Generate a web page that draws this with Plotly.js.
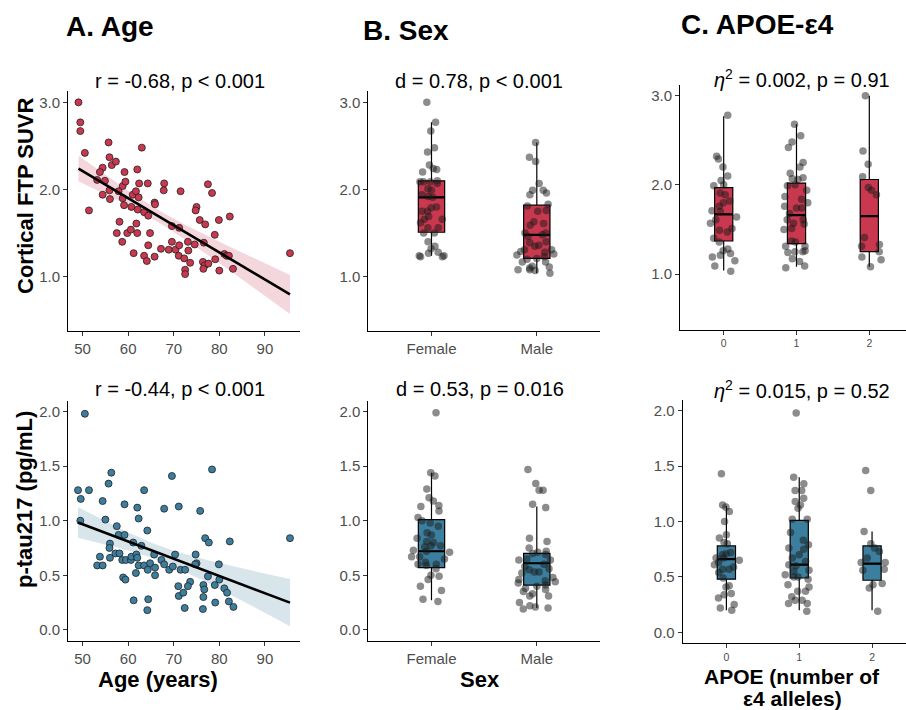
<!DOCTYPE html>
<html>
<head>
<meta charset="utf-8">
<script src="https://cdn.plot.ly/plotly-3.0.1.min.js"></script>
<style>html,body{margin:0;padding:0;background:#fff;}#chart{width:906px;height:710px;}</style>
</head>
<body>
<div id="chart"></div>
<script>
// ---------- DATA ----------
// Panel A (top): age vs cortical FTP SUVR
const ageFTP = [49.1,49.5,49.5,50.5,51.4,55.7,55.9,56.4,57.3,54.4,53.8,53.2,54.9,55.9,54.4,56.0,57.9,58.8,59.2,59.4,58.8,59.1,60.7,61.0,61.7,62.0,62.4,62.3,62.1,63.0,63.5,64.3,64.4,65.8,65.9,58.1,57.5,58.7,59.8,60.6,61.8,62.0,64.8,61.2,63.5,64.1,64.4,65.8,67.2,67.9,67.8,68.9,69.6,69.6,70.4,71.2,71.1,71.5,71.2,72.3,72.5,72.5,77.5,78.4,75.0,74.8,75.7,76.9,79.9,82.3,79.0,73.1,74.6,73.2,76.6,73.6,76.4,76.8,76.5,77.6,79.1,80.0,81.1,81.6,82.1,83.0,95.5];
const ftpByAge = [3.00,2.77,2.67,2.42,1.76,2.54,2.37,2.28,2.32,2.25,2.20,2.11,2.10,1.99,1.94,1.89,1.98,2.04,2.20,2.09,1.90,1.82,1.80,1.94,1.98,2.23,2.07,1.91,1.77,2.48,1.74,2.07,1.70,1.85,1.83,1.63,1.50,1.40,1.50,1.54,1.61,1.50,1.50,1.27,1.24,1.18,1.36,1.23,1.32,2.07,1.99,1.31,1.58,1.40,1.31,1.36,1.24,1.98,1.56,1.21,1.08,1.03,2.06,1.96,1.80,1.76,1.65,1.60,1.65,1.69,1.48,1.40,1.37,1.30,1.39,1.16,1.17,1.13,1.09,1.15,1.20,1.07,1.26,1.24,1.24,1.09,1.27];
// Panel A (bottom): age vs plasma p-tau217
const agePT = [50.5,49.0,49.6,51.4,49.5,56.3,55.7,54.4,55.0,59.2,62.0,62.3,63.5,64.2,67.9,69.6,71.1,57.5,57.9,59.2,56.0,55.9,56.0,57.2,58.1,53.8,53.2,54.4,58.7,59.5,60.6,60.7,61.1,61.8,62.0,62.3,62.9,63.5,64.8,64.3,65.9,65.7,65.9,61.7,58.9,59.4,61.2,64.4,64.2,67.3,67.9,69.0,69.8,70.3,71.5,71.0,71.1,72.1,72.4,72.5,78.4,75.8,76.9,77.7,82.3,95.5,74.8,75.0,74.7,79.9,77.5,80.0,73.6,73.1,76.5,76.7,79.0,81.1,81.7,76.5,82.1,79.1,76.4,83.1];
const ptByAge = [1.98,1.28,1.20,1.28,1.00,1.44,1.34,1.18,1.01,1.15,1.12,1.02,1.28,0.91,1.11,1.41,1.13,0.95,0.87,0.87,0.79,0.75,0.66,0.70,0.70,0.67,0.59,0.59,0.64,0.64,0.64,0.67,0.80,0.69,0.66,0.59,0.77,0.59,0.61,0.55,0.57,0.69,0.50,0.52,0.48,0.46,0.27,0.28,0.18,0.64,0.60,0.55,0.58,0.69,0.55,0.40,0.31,0.34,0.20,0.55,1.47,1.09,0.84,0.80,0.81,0.84,0.69,0.61,0.60,0.60,0.49,0.46,0.44,0.40,0.41,0.37,0.41,0.38,0.34,0.30,0.26,0.25,0.19,0.21];

// Panel B: sex
const sexCats = ['Female','Male'];
const ftpFemale = [3.00,2.67,2.77,2.43,2.48,2.24,2.28,2.23,2.20,2.09,2.07,2.09,2.10,2.09,1.99,2.01,1.94,1.92,1.91,1.80,1.79,1.75,1.75,1.69,1.66,1.62,1.66,1.56,1.56,1.50,1.50,1.40,1.35,1.32,1.28,1.23,1.27,1.24,1.23,1.24];
const ftpMale = [2.54,2.37,2.32,2.07,1.99,1.99,1.96,1.94,1.83,1.81,1.75,1.76,1.63,1.61,1.59,1.50,1.48,1.50,1.46,1.40,1.39,1.36,1.31,1.31,1.29,1.25,1.26,1.23,1.20,1.21,1.17,1.17,1.12,1.11,1.10,1.08,1.08,1.04,1.07,1.28,1.35];
const ptFemale = [1.99,1.44,1.41,1.29,1.21,1.18,1.13,1.14,1.09,1.03,1.00,0.95,0.98,0.84,0.87,0.89,0.81,0.80,0.77,0.77,0.76,0.72,0.67,0.67,0.65,0.62,0.56,0.60,0.59,0.60,0.50,0.49,0.46,0.40,0.36,0.28,0.26,0.71,0.73];
const ptMale = [1.47,1.34,1.28,1.28,1.15,1.12,0.84,0.81,0.75,0.72,0.70,0.71,0.69,0.65,0.64,0.64,0.60,0.58,0.56,0.55,0.53,0.53,0.44,0.45,0.43,0.41,0.46,0.40,0.38,0.37,0.35,0.33,0.31,0.31,0.25,0.21,0.20,0.22,0.19,0.52,0.48];
// box statistics (Female, Male)
const ftpSexQ1 = [1.51,1.21], ftpSexMed = [1.91,1.48], ftpSexQ3 = [2.10,1.82], ftpSexLo = [1.24,1.04], ftpSexHi = [2.77,2.54];
const ptSexQ1 = [0.57,0.41], ptSexMed = [0.72,0.61], ptSexQ3 = [1.01,0.70], ptSexLo = [0.27,0.20], ptSexHi = [1.44,1.13];

// Panel C: APOE e4 alleles
const apoeCats = ['0','1','2'];
const ftpApoe0 = [2.78,2.29,2.32,2.20,2.05,2.10,2.00,1.99,1.91,1.89,1.82,1.80,1.71,1.70,1.76,1.61,1.57,1.64,1.47,1.49,1.40,1.36,1.28,1.26,1.21,1.23,1.19,1.15,1.09,1.03,1.51];
const ftpApoe1 = [2.68,2.55,2.48,2.42,2.25,2.20,2.13,2.08,2.07,2.06,1.99,2.00,1.94,1.87,1.84,1.80,1.76,1.74,1.74,1.68,1.61,1.61,1.56,1.57,1.50,1.51,1.37,1.36,1.31,1.31,1.25,1.25,1.26,1.17,1.14,1.09,1.07,1.24];
const ftpApoe2 = [3.00,2.38,2.23,2.09,1.94,1.89,1.97,1.41,1.33,1.31,1.16,1.19,1.08,1.25];
const ptApoe0 = [1.43,1.15,1.13,1.09,1.00,0.88,0.85,0.81,0.80,0.72,0.70,0.71,0.67,0.67,0.65,0.63,0.61,0.57,0.57,0.54,0.49,0.42,0.41,0.35,0.34,0.31,0.25,0.22,0.20,0.59];
const ptApoe1 = [1.98,1.40,1.34,1.28,1.28,1.21,1.18,1.15,1.12,1.02,1.02,0.90,0.83,0.79,0.75,0.76,0.70,0.67,0.64,0.61,0.55,0.56,0.60,0.52,0.50,0.48,0.50,0.43,0.41,0.37,0.37,0.32,0.29,0.26,0.26,0.19,0.29];
const ptApoe2 = [1.46,1.28,0.91,0.80,0.76,0.73,0.67,0.63,0.63,0.57,0.56,0.40,0.43,0.44,0.19];
const ftpApoeQ1 = [1.37,1.34,1.25], ftpApoeMed = [1.67,1.66,1.65], ftpApoeQ3 = [1.97,2.02,2.06], ftpApoeLo = [1.04,1.08,1.08], ftpApoeHi = [2.77,2.68,3.00];
const ptApoeQ1 = [0.48,0.49,0.47], ptApoeMed = [0.66,0.61,0.62], ptApoeQ3 = [0.78,1.01,0.78], ptApoeLo = [0.20,0.20,0.20], ptApoeHi = [1.14,1.40,0.91];

// Text
const panelTitles = ['A. Age','B. Sex','C. APOE-ε4'];
const statTop = ['r = -0.68, p < 0.001','d = 0.78, p < 0.001','<i>η</i><sup>2</sup> = 0.002, p = 0.91'];
const statBottom = ['r = -0.44, p < 0.001','d = 0.53, p = 0.016','<i>η</i><sup>2</sup> = 0.015, p = 0.52'];

// ---------- STYLE ----------
const RED = '#C9384F', TEAL = '#3C7E9D';
const RED_BAND = 'rgba(201,56,79,0.2)', TEAL_BAND = 'rgba(60,126,157,0.2)';
const FONT = 'Liberation Sans, Arial, Helvetica, sans-serif';
const W = 906, H = 710;
const px = x => x / W, py = y => 1 - y / H;

// ---------- HELPERS ----------
function linfit(xs, ys) {
  const n = xs.length;
  const xm = xs.reduce((a, b) => a + b, 0) / n;
  const ym = ys.reduce((a, b) => a + b, 0) / n;
  let sxx = 0, sxy = 0;
  for (let i = 0; i < n; i++) { sxx += (xs[i] - xm) ** 2; sxy += (xs[i] - xm) * (ys[i] - ym); }
  const b = sxy / sxx, a = ym - b * xm;
  let sse = 0;
  for (let i = 0; i < n; i++) sse += (ys[i] - a - b * xs[i]) ** 2;
  const s = Math.sqrt(sse / (n - 2));
  const t = 1.989;
  const lo = Math.min(...xs), hi = Math.max(...xs);
  const gx = [], fit = [], low = [], upp = [];
  for (let k = 0; k <= 80; k++) {
    const x = lo + (hi - lo) * k / 80;
    const f = a + b * x;
    const se = s * Math.sqrt(1 / n + (x - xm) ** 2 / sxx);
    gx.push(x); fit.push(f); low.push(f - t * se); upp.push(f + t * se);
  }
  return { gx, fit, low, upp };
}

function scatterPanel(xs, ys, color, band, xa, ya) {
  const f = linfit(xs, ys);
  return [
    { type: 'scatter', mode: 'lines', x: f.gx, y: f.low, line: { width: 0 }, xaxis: xa, yaxis: ya, showlegend: false, hoverinfo: 'skip' },
    { type: 'scatter', mode: 'lines', x: f.gx, y: f.upp, line: { width: 0 }, fill: 'tonexty', fillcolor: band, xaxis: xa, yaxis: ya, showlegend: false, hoverinfo: 'skip' },
    { type: 'scatter', mode: 'markers', x: xs, y: ys, marker: { size: 7, color: color, line: { color: '#222', width: 0.8 } }, xaxis: xa, yaxis: ya, showlegend: false },
    { type: 'scatter', mode: 'lines', x: f.gx, y: f.fit, line: { color: '#000', width: 2.6 }, xaxis: xa, yaxis: ya, showlegend: false, hoverinfo: 'skip' }
  ];
}

function boxPanel(cats, groups, q1, med, q3, lo, hi, color, xa, ya) {
  const xs = [], ys = [];
  groups.forEach((g, i) => g.forEach(v => { xs.push(cats[i]); ys.push(v); }));
  return [
    { type: 'box', x: cats, q1: q1, median: med, q3: q3, lowerfence: lo, upperfence: hi,
      fillcolor: color, line: { color: '#000', width: 1.2 }, whiskerwidth: 0, width: 0.25,
      boxpoints: false, xaxis: xa, yaxis: ya, showlegend: false, hoverinfo: 'skip' },
    // thicker median bar (zero-height box at the median)
    { type: 'box', x: cats, q1: med, median: med, q3: med, lowerfence: med, upperfence: med,
      fillcolor: 'rgba(0,0,0,0)', line: { color: '#000', width: 2.2 }, whiskerwidth: 0, width: 0.245,
      boxpoints: false, xaxis: xa, yaxis: ya, showlegend: false, hoverinfo: 'skip' },
    { type: 'box', x: xs, y: ys, boxpoints: 'all', jitter: 1, pointpos: 0, width: 0.4,
      fillcolor: 'rgba(0,0,0,0)', line: { color: 'rgba(0,0,0,0)', width: 0 }, whiskerwidth: 0,
      marker: { size: 7.5, color: 'rgba(25,25,25,0.5)', line: { width: 0 } },
      xaxis: xa, yaxis: ya, showlegend: false, hoverinfo: 'skip' }
  ];
}

// ---------- TRACES ----------
const traces = [].concat(
  scatterPanel(ageFTP, ftpByAge, RED, RED_BAND, 'x', 'y'),
  boxPanel(sexCats, [ftpFemale, ftpMale], ftpSexQ1, ftpSexMed, ftpSexQ3, ftpSexLo, ftpSexHi, RED, 'x2', 'y2'),
  boxPanel(apoeCats, [ftpApoe0, ftpApoe1, ftpApoe2], ftpApoeQ1, ftpApoeMed, ftpApoeQ3, ftpApoeLo, ftpApoeHi, RED, 'x3', 'y3'),
  scatterPanel(agePT, ptByAge, TEAL, TEAL_BAND, 'x4', 'y4'),
  boxPanel(sexCats, [ptFemale, ptMale], ptSexQ1, ptSexMed, ptSexQ3, ptSexLo, ptSexHi, TEAL, 'x5', 'y5'),
  boxPanel(apoeCats, [ptApoe0, ptApoe1, ptApoe2], ptApoeQ1, ptApoeMed, ptApoeQ3, ptApoeLo, ptApoeHi, TEAL, 'x6', 'y6')
);

// ---------- LAYOUT ----------
function ax(extra) {
  return Object.assign({
    showline: true, linecolor: '#000', linewidth: 1, mirror: false,
    ticks: 'outside', ticklen: 4, tickwidth: 1, tickcolor: '#333',
    showgrid: false, zeroline: false, fixedrange: true,
    tickfont: { family: FONT, size: 15, color: '#4D4D4D' }
  }, extra);
}
const topY = { range: [0.375, 3.125], dtick: 1, tick0: 0, tickformat: '.1f' };
const botY = { range: [-0.1, 2.1], dtick: 0.5, tick0: 0, tickformat: '.1f' };
const ageX = { range: [46.8, 97.7], dtick: 10, tick0: 0 };
const sexX = { type: 'category', categoryarray: sexCats, range: [-0.6, 1.6] };
const smallTick = { family: FONT, size: 10.5, color: '#4D4D4D' };

const layout = {
  width: W, height: H, margin: { l: 0, r: 0, t: 0, b: 0 },
  paper_bgcolor: '#fff', plot_bgcolor: '#fff', showlegend: false, hovermode: false,
  boxmode: 'overlay',
  xaxis: ax(Object.assign({ domain: [px(68), px(300)], anchor: 'y' }, ageX)),
  yaxis: ax(Object.assign({ domain: [py(331.2), py(91.4)], anchor: 'x' }, topY)),
  xaxis2: ax(Object.assign({ domain: [px(368.3), px(600)], anchor: 'y2' }, sexX)),
  yaxis2: ax(Object.assign({ domain: [py(331.2), py(91.4)], anchor: 'x2' }, topY)),
  xaxis3: ax({ domain: [px(680), 1], anchor: 'y3', type: 'category', categoryarray: apoeCats, range: [-0.6, 2.504], tickfont: smallTick }),
  yaxis3: ax(Object.assign({ domain: [py(329.7), py(84.6)], anchor: 'x3' }, topY)),
  xaxis4: ax(Object.assign({ domain: [px(68), px(300)], anchor: 'y4' }, ageX)),
  yaxis4: ax(Object.assign({ domain: [py(640.7), py(400.7)], anchor: 'x4' }, botY)),
  xaxis5: ax(Object.assign({ domain: [px(368.3), px(600)], anchor: 'y5' }, sexX)),
  yaxis5: ax(Object.assign({ domain: [py(640.7), py(400.7)], anchor: 'x5' }, botY)),
  xaxis6: ax({ domain: [px(682.7), 1], anchor: 'y6', type: 'category', categoryarray: apoeCats, range: [-0.6, 2.466], tickfont: smallTick }),
  yaxis6: ax(Object.assign({ domain: [py(643.4), py(399.6)], anchor: 'x6' }, botY)),
  annotations: []
};

function ann(text, x, y, size, bold, angle) {
  layout.annotations.push({
    text: bold ? '<b>' + text + '</b>' : text, x: px(x), y: py(y), xref: 'paper', yref: 'paper',
    xanchor: 'center', yanchor: 'middle', showarrow: false, textangle: angle || 0,
    font: { family: FONT, size: size, color: '#000' }
  });
}
// panel titles
ann(panelTitles[0], 110, 27, 28, true);
ann(panelTitles[1], 406, 31, 28, true);
ann(panelTitles[2], 757, 25, 28, true);
// stat subtitles
ann(statTop[0], 179.5, 81.5, 20);
ann(statTop[1], 479, 81.5, 20);
ann(statTop[2], 802, 79, 20);
ann(statBottom[0], 179.5, 389, 20);
ann(statBottom[1], 480, 389, 20);
ann(statBottom[2], 802, 389, 20);
// axis titles
ann('Cortical FTP SUVR', 25, 196, 22, true, -90);
ann('p-tau217 (pg/mL)', 25, 500, 22, true, -90);
ann('Age (years)', 158, 679, 22, true);
ann('Sex', 480, 679, 22, true);
ann('APOE (number of', 792, 676, 21, true);
ann('ε4 alleles)', 792, 698, 21, true);

Plotly.newPlot('chart', traces, layout, { staticPlot: true, displayModeBar: false });
</script>
</body>
</html>
